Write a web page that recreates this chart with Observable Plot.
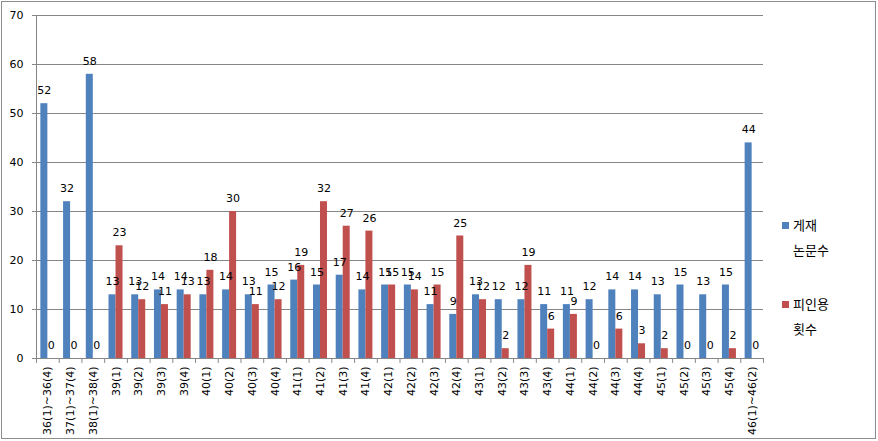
<!DOCTYPE html>
<html><head><meta charset="utf-8">
<script src="https://cdn.jsdelivr.net/npm/d3@7"></script>
<script src="https://cdn.jsdelivr.net/npm/@observablehq/plot@0.6"></script>
<style>
body{margin:0;background:#fff;}
#wrap{position:relative;width:878px;height:441px;overflow:hidden;}
#border{position:absolute;left:1px;top:1px;width:873px;height:436px;border:1px solid #8c8c8c;pointer-events:none;}
.sw{position:absolute;width:7px;height:7px;}
.lt{position:absolute;font:13px "Noto Sans CJK KR","Noto Sans",sans-serif;color:#000;line-height:25px;white-space:nowrap;}
</style></head>
<body>
<div id="wrap"><div id="chart"></div><div id="border"></div><div id="legend"></div></div>
<script>
const categories = ["36(1)~36(4)","37(1)~37(4)","38(1)~38(4)","39(1)","39(2)","39(3)","39(4)","40(1)","40(2)","40(3)","40(4)","41(1)","41(2)","41(3)","41(4)","42(1)","42(2)","42(3)","42(4)","43(1)","43(2)","43(3)","43(4)","44(1)","44(2)","44(3)","44(4)","45(1)","45(2)","45(3)","45(4)","46(1)~46(2)"];
const papers =    [52,32,58,13,13,14,14,13,14,13,15,16,15,17,14,15,15,11, 9,13,12,12,11,11,12,14,14,13,15,13,15,44];
const citations = [ 0, 0, 0,23,12,11,13,18,30,11,12,19,32,27,26,15,14,15,25,12, 2,19, 6, 9, 0, 6, 3, 2, 0, 0, 2, 0];
const seriesNames = ["게재 논문수","피인용 횟수"];
const seriesLegend = [["게재","논문수"],["피인용","횟수"]];
const colors = ["#4F81BD","#C0504D"];
const yTicks = [0,10,20,30,40,50,60,70];

const W = 878, H = 441, mL = 36, mR = 115, mT = 15, mB = 83;
const step = (W - mL - mR) / categories.length;
const bw = 7;
const gap = (step - 2 * bw) / 2;

const rowsP = categories.map((c, i) => ({category: c, series: seriesNames[0], value: papers[i]}));
const rowsC = categories.map((c, i) => ({category: c, series: seriesNames[1], value: citations[i]}));
const grey = "#868686";
const font = "DejaVu Sans";

const chart = Plot.plot({
  width: W, height: H,
  marginLeft: mL, marginRight: mR, marginTop: mT, marginBottom: mB,
  style: {fontFamily: font, fontSize: "11px", color: "#000", background: "#fff"},
  x: {type: "band", domain: categories, paddingInner: 0, paddingOuter: 0, align: 0.5, round: false, range: [mL, W - mR], label: null},
  y: {domain: [0, 70], range: [H - mB, mT], label: null},
  marks: [
    Plot.gridY(yTicks, {stroke: grey, strokeOpacity: 1}),
    Plot.barY(rowsP, {x: "category", y: "value", fill: colors[0], insetLeft: gap, insetRight: gap + bw}),
    Plot.barY(rowsC, {x: "category", y: "value", fill: colors[1], insetLeft: gap + bw, insetRight: gap}),
    Plot.text(rowsP, {x: "category", y: "value", text: "value", dx: -bw / 2, dy: -13, fill: "#000", fontSize: 11}),
    Plot.text(rowsC, {x: "category", y: "value", text: "value", dx: bw / 2, dy: -13, fill: "#000", fontSize: 11}),
    Plot.ruleY([0], {stroke: grey}),
    Plot.frame({anchor: "left", stroke: grey}),
    Plot.ruleX(categories, {x: d => d, y1: 0, y2: -1, dx: -step / 2, stroke: grey}),
    Plot.ruleX(categories.slice(-1), {x: d => d, y1: 0, y2: -1, dx: step / 2, stroke: grey}),
    Plot.axisY({ticks: yTicks, tickSize: 4, tickPadding: 9, stroke: grey, label: null, fontSize: 11}),
    Plot.axisX({tickSize: 0, tickRotate: -90, tickPadding: 8, label: null, fontSize: 11})
  ]
});
document.getElementById("chart").appendChild(chart);

const leg = document.getElementById("legend");
const legTop = [212, 291];
seriesLegend.forEach((lines, i) => {
  const sw = document.createElement("div");
  sw.className = "sw";
  sw.style.left = "782px";
  sw.style.top = (legTop[i] + 10) + "px";
  sw.style.background = colors[i];
  leg.appendChild(sw);
  const t = document.createElement("div");
  t.className = "lt";
  t.style.left = "793px";
  t.style.top = legTop[i] + "px";
  t.innerHTML = lines.join("<br>");
  leg.appendChild(t);
});
</script>
</body></html>
